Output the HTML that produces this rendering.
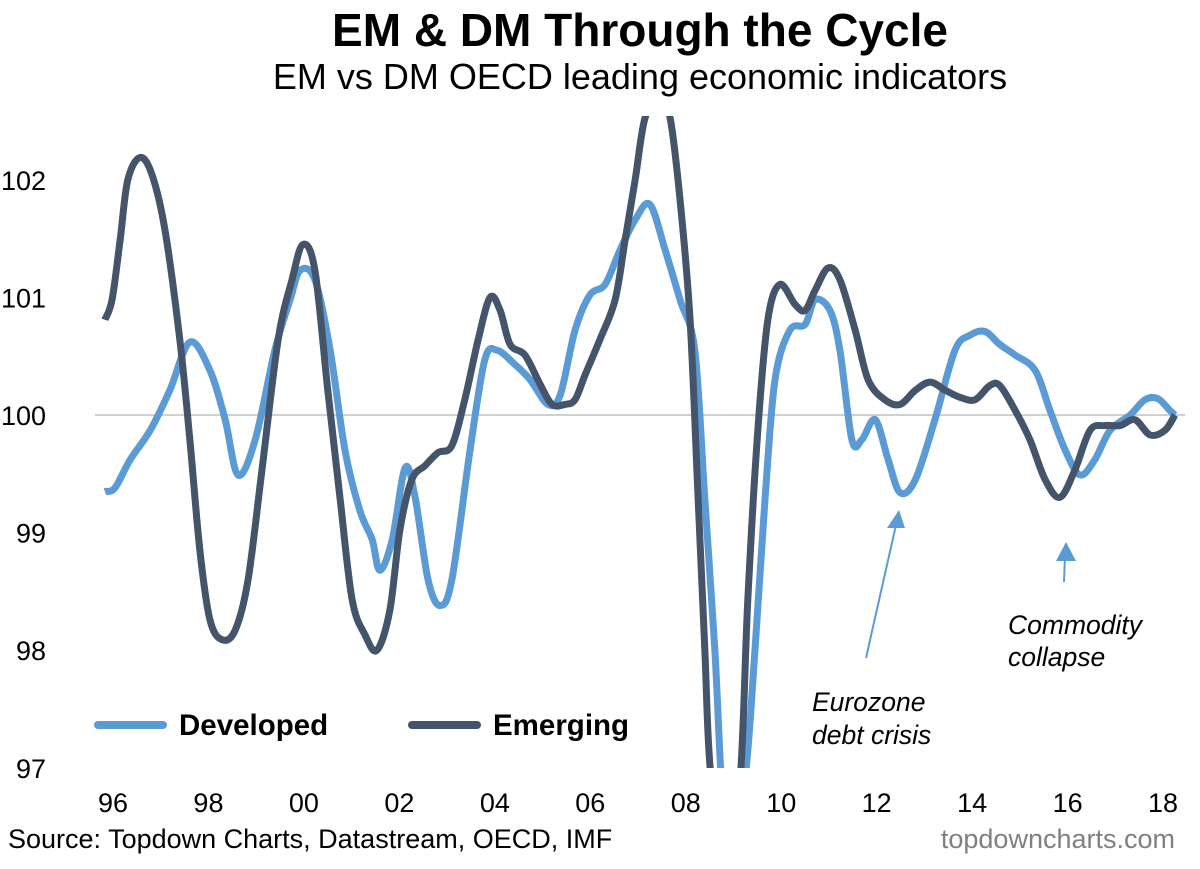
<!DOCTYPE html>
<html><head><meta charset="utf-8"><style>
body{margin:0;background:#fff;width:1200px;height:864px;overflow:hidden;font-family:"Liberation Sans",Arial,sans-serif}
</style></head><body>
<svg width="1200" height="864" viewBox="0 0 1200 864" font-family="Liberation Sans, Arial, sans-serif">
<defs><clipPath id="plot"><rect x="95" y="116" width="1090" height="652"/></clipPath></defs>
<text x="640" y="46" text-anchor="middle" font-size="46" font-weight="bold">EM &amp; DM Through the Cycle</text>
<text x="640" y="89" text-anchor="middle" font-size="36">EM vs DM OECD leading economic indicators</text>
<g id="yticks"></g>
<g id="xticks"></g>
<line id="ref" stroke="#d0d0d0" stroke-width="2"/>
<g clip-path="url(#plot)" id="series"></g>
<g>
<line x1="98" y1="725" x2="163" y2="725" stroke="#5B9BD5" stroke-width="8" stroke-linecap="round"/>
<text x="179" y="735" font-size="29.5" font-weight="bold">Developed</text>
<line x1="412" y1="725" x2="477" y2="725" stroke="#44546A" stroke-width="8" stroke-linecap="round"/>
<text x="493" y="735" font-size="29.5" font-weight="bold">Emerging</text>
</g>
<g>
<line x1="866" y1="658" x2="896" y2="525" stroke="#5B9BD5" stroke-width="2"/>
<polygon points="899,510 887,528 905,528" fill="#5B9BD5"/>
<text x="812" y="711" font-size="26.5" font-style="italic">Eurozone</text>
<text x="812" y="744" font-size="26.5" font-style="italic">debt crisis</text>
</g>
<g>
<line x1="1064" y1="582" x2="1065" y2="556" stroke="#5B9BD5" stroke-width="2"/>
<polygon points="1066,542 1056,561 1076,561" fill="#5B9BD5"/>
<text x="1008" y="634" font-size="26.5" font-style="italic">Commodity</text>
<text x="1008" y="666" font-size="26.5" font-style="italic">collapse</text>
</g>
<text x="8" y="848" font-size="27">Source: Topdown Charts, Datastream, OECD, IMF</text>
<text x="1175" y="848" font-size="27" fill="#808080" text-anchor="end">topdowncharts.com</text>
</svg>
<script>
const yTicks=[97,98,99,100,101,102];
const xTickLabels=["96","98","00","02","04","06","08","10","12","14","16","18"];
const xTickYears=[1996,1998,2000,2002,2004,2006,2008,2010,2012,2014,2016,2018];
const devYears=[1995.83,1996.04,1996.36,1996.78,1997.19,1997.61,1998.03,1998.35,1998.62,1998.98,1999.39,1999.71,1999.92,2000.23,2000.55,2000.86,2001.17,2001.43,2001.59,2001.85,2002.12,2002.33,2002.6,2002.85,2003.1,2003.48,2003.79,2004.05,2004.42,2004.74,2005.11,2005.37,2005.68,2005.99,2006.31,2006.62,2006.94,2007.25,2007.57,2007.88,2008.19,2008.4,2008.61,2008.76,2008.93,2009.24,2009.45,2009.66,2009.87,2010.18,2010.5,2010.71,2011.02,2011.23,2011.48,2011.69,2011.97,2012.24,2012.49,2012.81,2013.22,2013.64,2013.96,2014.27,2014.58,2014.9,2015.32,2015.63,2015.95,2016.26,2016.57,2016.89,2017.31,2017.62,2017.89,2018.14,2018.25];
const devValues=[99.35,99.38,99.62,99.87,100.21,100.62,100.38,99.96,99.49,99.79,100.55,100.98,101.23,101.15,100.55,99.7,99.19,98.94,98.68,98.94,99.55,99.3,98.6,98.38,98.6,99.7,100.47,100.55,100.43,100.3,100.09,100.17,100.72,101.02,101.11,101.4,101.66,101.79,101.4,100.98,100.55,99.28,98.0,96.8,96.3,96.9,98.0,99.28,100.3,100.72,100.77,100.98,100.89,100.55,99.79,99.79,99.96,99.62,99.34,99.45,99.96,100.55,100.68,100.71,100.6,100.51,100.38,100.04,99.7,99.49,99.62,99.87,100.0,100.13,100.14,100.04,100.0];
const emYears=[1995.83,1995.98,1996.15,1996.31,1996.57,1996.82,1997.09,1997.4,1997.61,1997.82,1998.03,1998.28,1998.56,1998.83,1999.12,1999.46,1999.75,1999.98,2000.23,2000.5,2000.76,2001.01,2001.28,2001.53,2001.8,2002.01,2002.26,2002.54,2002.81,2003.1,2003.37,2003.65,2003.9,2004.11,2004.32,2004.63,2004.95,2005.2,2005.47,2005.68,2005.89,2006.2,2006.52,2006.73,2006.94,2007.15,2007.46,2007.67,2007.88,2008.09,2008.26,2008.4,2008.51,2008.82,2009.14,2009.3,2009.51,2009.72,2009.97,2010.29,2010.5,2010.71,2010.98,2011.23,2011.55,2011.82,2012.17,2012.49,2012.81,2013.12,2013.44,2013.75,2014.06,2014.37,2014.58,2014.9,2015.21,2015.53,2015.84,2016.15,2016.47,2016.78,2017.1,2017.41,2017.73,2018.04,2018.25];
const emValues=[100.81,100.98,101.49,102.0,102.19,102.04,101.57,100.64,99.79,98.85,98.26,98.09,98.17,98.6,99.53,100.64,101.15,101.45,101.23,100.21,99.28,98.43,98.13,98.0,98.34,99.02,99.45,99.57,99.68,99.74,100.13,100.64,101.0,100.89,100.6,100.51,100.26,100.09,100.09,100.13,100.34,100.64,100.98,101.49,102.0,102.53,102.68,102.53,101.83,100.81,99.28,98.0,97.0,95.8,96.9,98.43,99.87,100.81,101.11,100.94,100.89,101.06,101.25,101.15,100.72,100.3,100.13,100.09,100.21,100.28,100.21,100.15,100.13,100.25,100.25,100.04,99.79,99.45,99.3,99.53,99.87,99.91,99.91,99.96,99.83,99.87,100.0];
const NS="http://www.w3.org/2000/svg";
function X(yr){return 113+(yr-1996)*47.73;}
function Y(v){return 415-(v-100)*117.6;}
const yg=document.getElementById('yticks');
yTicks.forEach(v=>{const t=document.createElementNS(NS,'text');


t.setAttribute('x',46);t.setAttribute('y',Y(v)+10);t.setAttribute('text-anchor','end');t.setAttribute('font-size','27');t.textContent=v;yg.appendChild(t);});
const xg=document.getElementById('xticks');
xTickLabels.forEach((l,i)=>{const t=document.createElementNS(NS,'text');


t.setAttribute('x',X(xTickYears[i]));t.setAttribute('y',812);t.setAttribute('text-anchor','middle');t.setAttribute('font-size','27');t.textContent=l;xg.appendChild(t);});
const r=document.getElementById('ref');r.setAttribute('x1',95);r.setAttribute('x2',1185);r.setAttribute('y1',Y(100));r.setAttribute('y2',Y(100));
function path(xs,vs){const p=xs.map((x,i)=>[X(x),Y(vs[i])]);let d='M'+p[0][0]+','+p[0][1];
for(let i=0;i<p.length-1;i++){const p0=p[Math.max(0,i-1)],p1=p[i],p2=p[i+1],p3=p[Math.min(p.length-1,i+2)];
const c1=[p1[0]+(p2[0]-p0[0])/6,p1[1]+(p2[1]-p0[1])/6],c2=[p2[0]-(p3[0]-p1[0])/6,p2[1]-(p3[1]-p1[1])/6];
d+=' C'+c1[0]+','+c1[1]+' '+c2[0]+','+c2[1]+' '+p2[0]+','+p2[1];}return d;}
const sg=document.getElementById('series');
[[devYears,devValues,'#5B9BD5','developed-line'],[emYears,emValues,'#44546A','emerging-line']].forEach(s=>{const e=document.createElementNS(NS,'path');


e.setAttribute('d',path(s[0],s[1]));e.setAttribute('fill','none');e.setAttribute('stroke',s[2]);e.setAttribute('stroke-width','7');e.setAttribute('stroke-linejoin','round');sg.appendChild(e);});
</script>
</body></html>
